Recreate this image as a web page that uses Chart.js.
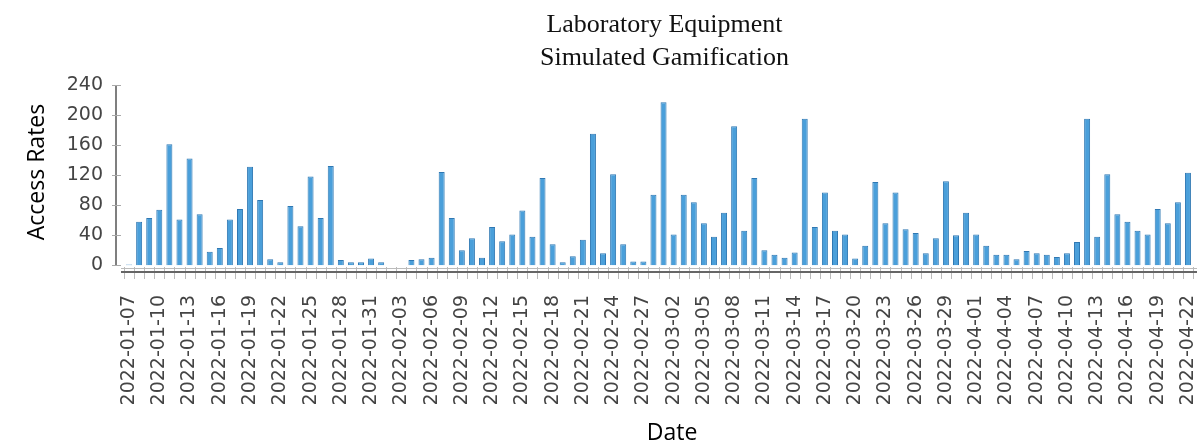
<!DOCTYPE html>
<html>
<head>
<meta charset="utf-8">
<script src="https://cdn.jsdelivr.net/npm/chart.js@4/dist/chart.umd.min.js"></script>
<style>
  html, body { margin: 0; padding: 0; background: #fff; }
  #wrap { width: 1197px; height: 445px; }
</style>
</head>
<body>
<div id="wrap"><canvas id="accessChart" width="1197" height="445"></canvas></div>
<script>
const dates = [
  "2022-01-07","2022-01-08","2022-01-09","2022-01-10","2022-01-11","2022-01-12","2022-01-13","2022-01-14",
  "2022-01-15","2022-01-16","2022-01-17","2022-01-18","2022-01-19","2022-01-20","2022-01-21","2022-01-22",
  "2022-01-23","2022-01-24","2022-01-25","2022-01-26","2022-01-27","2022-01-28","2022-01-29","2022-01-30",
  "2022-01-31","2022-02-01","2022-02-02","2022-02-03","2022-02-04","2022-02-05","2022-02-06","2022-02-07",
  "2022-02-08","2022-02-09","2022-02-10","2022-02-11","2022-02-12","2022-02-13","2022-02-14","2022-02-15",
  "2022-02-16","2022-02-17","2022-02-18","2022-02-19","2022-02-20","2022-02-21","2022-02-22","2022-02-23",
  "2022-02-24","2022-02-25","2022-02-26","2022-02-27","2022-02-28","2022-03-01","2022-03-02","2022-03-03",
  "2022-03-04","2022-03-05","2022-03-06","2022-03-07","2022-03-08","2022-03-09","2022-03-10","2022-03-11",
  "2022-03-12","2022-03-13","2022-03-14","2022-03-15","2022-03-16","2022-03-17","2022-03-18","2022-03-19",
  "2022-03-20","2022-03-21","2022-03-22","2022-03-23","2022-03-24","2022-03-25","2022-03-26","2022-03-27",
  "2022-03-28","2022-03-29","2022-03-30","2022-03-31","2022-04-01","2022-04-02","2022-04-03","2022-04-04",
  "2022-04-05","2022-04-06","2022-04-07","2022-04-08","2022-04-09","2022-04-10","2022-04-11","2022-04-12",
  "2022-04-13","2022-04-14","2022-04-15","2022-04-16","2022-04-17","2022-04-18","2022-04-19","2022-04-20",
  "2022-04-21","2022-04-22"
];

const accessRates = [
  1, 58, 63, 74, 161, 61, 142, 68, 18, 23, 61, 75, 131, 87, 8, 4,
  79, 52, 118, 63, 132, 7, 4, 4, 9, 4, 0, 0, 7, 8, 10, 124,
  63, 20, 36, 10, 51, 32, 41, 73, 38, 116, 28, 4, 12, 34, 175, 16,
  121, 28, 5, 5, 94, 217, 41, 94, 84, 56, 38, 70, 185, 46, 116, 20,
  14, 10, 17, 195, 51, 97, 46, 41, 9, 26, 111, 56, 97, 48, 43, 16,
  36, 112, 40, 70, 41, 26, 14, 14, 8, 19, 16, 14, 11, 16, 31, 195,
  38, 121, 68, 58, 46, 41, 75, 56, 84, 123
];

// only every third date gets a label
const tickDates = [
  "2022-01-07","2022-01-10","2022-01-13","2022-01-16","2022-01-19","2022-01-22","2022-01-25","2022-01-28",
  "2022-01-31","2022-02-03","2022-02-06","2022-02-09","2022-02-12","2022-02-15","2022-02-18","2022-02-21",
  "2022-02-24","2022-02-27","2022-03-02","2022-03-05","2022-03-08","2022-03-11","2022-03-14","2022-03-17",
  "2022-03-20","2022-03-23","2022-03-26","2022-03-29","2022-04-01","2022-04-04","2022-04-07","2022-04-10",
  "2022-04-13","2022-04-16","2022-04-19","2022-04-22"
];
const yTicks = [0, 40, 80, 120, 160, 200, 240];

const titleLines = ["Laboratory Equipment", "Simulated Gamification"];

const decorations = {
  id: "decorations",
  afterDraw(chart) {
    const { ctx, chartArea, scales } = chart;
    const x = scales.x, y = scales.y;
    ctx.save();

    // y axis line + ticks
    const ax = chartArea.left - 8;
    ctx.strokeStyle = "#555";
    ctx.lineWidth = 1.5;
    ctx.beginPath();
    ctx.moveTo(ax, y.getPixelForValue(240));
    ctx.lineTo(ax, y.getPixelForValue(0));
    ctx.stroke();
    ctx.strokeStyle = "#aaa";
    ctx.lineWidth = 1;
    yTicks.forEach((v) => {
      const py = Math.round(y.getPixelForValue(v)) + 0.5;
      ctx.beginPath();
      ctx.moveTo(ax - 4, py);
      ctx.lineTo(ax + 5, py);
      ctx.stroke();
    });

    // x tick marks between bars
    const step = x.width / dates.length;
    const base = Math.round(chartArea.bottom);
    ctx.strokeStyle = "#bbb";
    ctx.lineWidth = 1;
    for (let i = 0; i <= dates.length; i++) {
      const px = Math.round(x.getPixelForValue(0) - step / 2 + i * step) + 0.5;
      ctx.beginPath();
      ctx.moveTo(px, base - 5);
      ctx.lineTo(px, base + 7);
      ctx.stroke();
    }
    // x axis line
    ctx.strokeStyle = "#666";
    ctx.lineWidth = 2;
    ctx.beginPath();
    ctx.moveTo(chartArea.left - 3, base);
    ctx.lineTo(chartArea.right + 4, base);
    ctx.stroke();
    ctx.strokeStyle = "#bbb";
    ctx.lineWidth = 1;
    ctx.beginPath();
    ctx.moveTo(chartArea.left - 3, base - 3.5);
    ctx.lineTo(chartArea.right + 4, base - 3.5);
    ctx.stroke();

    // title
    ctx.fillStyle = "#111";
    ctx.textAlign = "center";
    ctx.textBaseline = "alphabetic";
    ctx.font = "26px 'Liberation Serif', 'Times New Roman', serif";
    const cx = (chartArea.left + chartArea.right) / 2 + 6;
    ctx.fillText(titleLines[0], cx, 32);
    ctx.fillText(titleLines[1], cx, 65);

    // axis titles
    ctx.fillStyle = "#000";
    ctx.font = "23px 'Open Sans', sans-serif";
    ctx.textBaseline = "middle";
    ctx.fillText("Date", 672, 433);
    ctx.translate(37, 172);
    ctx.rotate(-Math.PI / 2);
    ctx.fillText("Access Rates", 0, 0);
    ctx.restore();
  }
};

const ctx = document.getElementById("accessChart").getContext("2d");
new Chart(ctx, {
  type: "bar",
  data: {
    labels: dates,
    datasets: [{
      label: "Access Rates",
      data: accessRates,
      backgroundColor: "#4a9fda",
      borderColor: "#2f78b3",
      borderWidth: 1,
      barPercentage: 0.66,
      categoryPercentage: 0.9,
    }],
  },
  options: {
    responsive: false,
    animation: false,
    layout: { padding: { top: 85, right: 4, left: 0, bottom: 0 } },
    plugins: {
      legend: { display: false },
      tooltip: { enabled: false },
    },
    scales: {
      x: {
        grid: { display: false },
        border: { display: false },
        ticks: {
          autoSkip: false,
          maxRotation: 90,
          minRotation: 90,
          padding: 15,
          color: "#444",
          font: { family: "'DejaVu Sans', sans-serif", size: 19 },
          callback: (val, i) => (tickDates.includes(dates[i]) ? dates[i] : ""),
        },
        afterFit: (s) => {
          s.height = 173;
          s.paddingLeft = 0;
          s.paddingRight = 0;
        },
      },
      y: {
        min: -9,
        max: 240,
        grid: { display: false },
        border: { display: false },
        afterBuildTicks: (s) => { s.ticks = yTicks.map((v) => ({ value: v })); },
        ticks: {
          padding: 13,
          color: "#444",
          font: { family: "'DejaVu Sans', sans-serif", size: 19 },
        },
        afterFit: (s) => {
          s.width = 124;
          s.paddingTop = 0;
          s.paddingBottom = 0;
        },
      },
    },
  },
  plugins: [decorations],
});
</script>
</body>
</html>
